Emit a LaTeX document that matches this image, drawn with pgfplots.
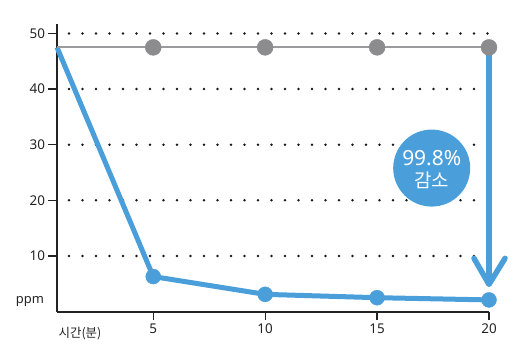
\documentclass[border=0pt]{standalone}
\usepackage{pgfplots}
\pgfplotsset{compat=1.18}
\usepackage{fontspec}
\setmainfont{Noto Sans}
\newfontfamily\kr{Noto Sans CJK KR}
\definecolor{cblue}{RGB}{74,158,218}
\definecolor{cgray}{RGB}{140,140,143}
\definecolor{cgrayl}{RGB}{155,155,158}
\definecolor{ctext}{RGB}{35,35,35}
\begin{document}
\begin{tikzpicture}
\begin{axis}[
  scale only axis,
  width=432bp, height=287.6bp,
  xmin=0.7, xmax=20, ymin=0, ymax=51.7,
  axis x line=bottom, axis y line=left,
  axis line style={line width=2bp, ctext, -},
  xtick={5,10,15,20}, ytick={10,20,30,40,50},
  tick align=outside,
  major tick length=8.5bp,
  tick style={line width=1.3bp, ctext},
  ymajorgrids,
  grid style={line width=2.8bp, black!90, line cap=round, dash pattern=on 0bp off 13.5bp, dash phase=1.5bp},
  /pgf/number format/assume math mode=true,
  ticklabel style={font=\fontsize{13.5}{15}\selectfont, text=ctext},
  clip=false,
]
% bounding box
\path (rel axis cs:0,0) ++(-57bp,-39.4bp) rectangle ++(517bp,351bp);
% arrow
\draw[cblue, line width=5.5bp] (axis cs:20,47.5) -- (axis cs:20,4.9);
\draw[cblue, line width=5.5bp, line cap=round, line join=round]
  (axis cs:20,4.9) ++(-15bp,26bp) -- (axis cs:20,4.9) -- ++(16bp,26bp);
% blue series
\addplot[cblue, line width=5bp, line join=round] coordinates {(0.7,47.5) (5,6.3) (10,3.1) (15,2.5) (20,2.1)};
\addplot[only marks, mark=*, mark size=7.5bp, cblue, mark options={draw=cblue, fill=cblue}] coordinates {(5,6.3) (10,3.1) (15,2.5) (20,2.1)};
% gray series
\addplot[cgrayl, line width=2.2bp] coordinates {(0.7,47.5) (5,47.5) (10,47.5) (15,47.5) (20,47.5)};
\addplot[only marks, mark=*, mark size=8bp, mark options={draw=cgray, fill=cgray}] coordinates {(5,47.5) (10,47.5) (15,47.5) (20,47.5)};
% badge
\fill[cblue] (axis cs:17.44,25.8) circle[radius=38.5bp];
\node[white, font=\fontsize{21}{23}\selectfont, inner sep=0pt] at (axis cs:17.44,25.8) [yshift=10bp] {99.8\%};
\node[white, font=\kr\fontsize{19}{21}\selectfont, inner sep=0pt] at (axis cs:17.44,25.8) [yshift=-12bp] {감소};
% labels
\node[text=ctext, font=\fontsize{13}{14}\selectfont, inner sep=0pt] at (axis cs:0.7,0) [xshift=-27bp, yshift=9.6bp] {ppm};
\node[text=ctext, font=\kr\fontsize{12.5}{14}\selectfont, inner sep=0pt] at (axis cs:0.7,0) [xshift=23bp, yshift=-21.5bp] {시간(분)};
\end{axis}
\end{tikzpicture}
\end{document}
